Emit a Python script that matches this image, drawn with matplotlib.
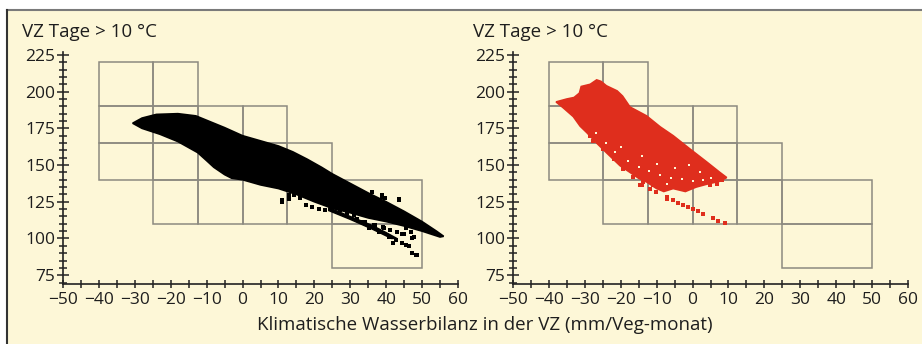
import matplotlib
matplotlib.use("Agg")
import matplotlib.pyplot as plt
from matplotlib.patches import Rectangle, Polygon
from matplotlib.lines import Line2D
from matplotlib.ticker import MultipleLocator

plt.rcParams['font.family'] = ['Open Sans', 'DejaVu Sans']

# ---------------- data ----------------
y_title = "VZ Tage > 10 °C"
x_title = "Klimatische Wasserbilanz in der VZ (mm/Veg-monat)"
x_ticks = [-50, -40, -30, -20, -10, 0, 10, 20, 30, 40, 50, 60]
y_ticks = [75, 100, 125, 150, 175, 200, 225]

# climate-space boxes (x0, x1, y0, y1)
box_x0 = [-40, -25, -40, -25, -12.5, 0, -40, -25, -12.5, 0, 12.5, -25, -12.5, 0, 12.5, 25, 25]
box_x1 = [-25, -12.5, -25, -12.5, 0, 12.5, -25, -12.5, 0, 12.5, 25, -12.5, 0, 12.5, 25, 50, 50]
box_y0 = [190, 190, 165, 165, 165, 165, 140, 140, 140, 140, 140, 110, 110, 110, 110, 110, 80]
box_y1 = [220, 220, 190, 190, 190, 190, 165, 165, 165, 165, 165, 140, 140, 140, 140, 140, 110]

# left panel: outline of the dense black point cloud
black_cloud_x = [-30.6, -28, -24, -18, -13, -10, -5, 0, 5, 10, 14, 18, 22, 25, 30, 35, 40, 45, 50, 54, 56,
                 55, 50, 45, 40, 35, 30, 25, 20, 15, 10, 5, 0, -3, -5, -8, -10, -12.5, -18, -23, -28]
black_cloud_y = [178.5, 182, 184.5, 185, 183.5, 180.5, 175.5, 170, 166.5, 163, 159, 154, 148.5, 144, 137.5, 131, 125, 118.5, 111.5, 105, 101.5,
                 101, 105, 108.5, 111.5, 114, 117.5, 120.5, 125, 130, 134, 136.5, 140, 141, 143.5, 148.5, 153, 158.5, 166, 171, 175]
black_branch_x = [24, 30, 36, 40, 43, 41.5, 36, 30, 24]
black_branch_y = [121, 115, 109, 104, 100, 100, 106.5, 113, 119]
black_pts_x = [11.1, 13, 14.4, 17.6, 19.4, 21.3, 23.1, 25.9, 36.1, 38.9, 39.8, 43.5, 35.2, 38, 40.7, 42.6, 44.4,
               45.4, 46.8, 47.7, 46.3, 47.2, 48.6, 45, 36.6, 33.3, 39.4, 11.1, 13, 43.5, 38.9, 48.2, 41.8, 45.4, 47.2,
               32, 34, 37, 39, 41, 43, 44.5, 31, 29, 27, 16]
black_pts_y = [124.9, 127.2, 129.4, 122.6, 121.6, 120.4, 119.3, 121.6, 131.7, 128.4, 127.6, 126, 106.9, 104.7, 101.3, 99, 96.8,
               106.9, 104.7, 101.3, 94.6, 90.1, 88.5, 102.8, 109.2, 111.4, 106.9, 126, 129.4, 127.2, 129.4, 89, 96.9, 95.8, 100.2,
               113, 111, 109.5, 108, 106, 104.5, 103, 116, 117.5, 119.5, 127.5]

# right panel: outline of the dense red point cloud
red_cloud_x = [-38, -35, -33, -31.5, -31, -28.5, -26.7, -25.5, -24, -21, -19.5, -17.4, -12.8, -9, -5.4, -0.75, 4, 7.6, 9.5,
               7.6, 4, 1, -2, -5.4, -8, -10, -12.8, -15, -17.4, -20.2, -24, -26.7, -29.4, -31.3, -33.2, -36]
red_cloud_y = [193, 195, 196, 199, 203.5, 205, 208, 207, 204, 200.5, 197, 189.5, 183.5, 176, 170, 161, 152, 145, 141.5,
               139, 137, 135, 132, 134, 132, 134, 138.5, 141, 145, 149.6, 158.5, 165, 172, 176.5, 183, 189]
red_pts_x = [-5.4, -2.6, 0.2, 2.9, 5.7, 9, -11.9, -10.1, -7.2, -14.6, -28.5, -27.6, -24.8, -22, -19.3, -16.5, -13.7,
             -10.9, -0.75, 2, 4.8, 6.7, 8.1, -7.2, -14.2, -4, -1.2, 1.5, 7.2]
red_pts_y = [126, 122.6, 120.4, 117, 113.7, 110.3, 133.9, 131.7, 128.3, 136.1, 169.9, 166.5, 160.9, 154.1, 147.4, 141.8, 138.4,
             136.1, 135, 137.3, 136.1, 137.3, 139.5, 127.2, 136.1, 124.5, 121.5, 119, 112]
# small light gaps visible inside the lower part of the red cloud
red_gap_x = [-27, -24, -21.5, -18, -15, -12, -9, -6, -3, 0, 3, -10, -5, -20, 2, -1, -14, -7, 5]
red_gap_y = [172, 165, 159, 153, 149, 146, 143, 141, 140.5, 139, 140, 151, 148, 162, 145, 150, 156, 137, 141]

# ---------------- styling ----------------
cream = '#fdf7d7'
grid_col = '#8c8a80'
txt_col = '#1e1e1e'

fig = plt.figure(figsize=(9.22, 3.44), dpi=100)
fig.patch.set_facecolor('white')
W, H = 922, 344
fig.patches.append(Rectangle((7 / W, 0), 1 - 7 / W, 1 - 10 / H, transform=fig.transFigure,
                             facecolor=cream, edgecolor='none', zorder=-10))
fig.lines.append(Line2D([7 / W, 1], [1 - 10 / H, 1 - 10 / H], transform=fig.transFigure,
                        color='#7a7a7a', lw=1.5))
fig.lines.append(Line2D([7 / W, 7 / W], [0, 1 - 10 / H], transform=fig.transFigure,
                        color='#333333', lw=1.5))

ax_bottom = 1 - 284 / H
ax_top = 1 - 52 / H
axL = fig.add_axes([63 / W, ax_bottom, (458 - 63) / W, ax_top - ax_bottom])
axR = fig.add_axes([513 / W, ax_bottom, (908 - 513) / W, ax_top - ax_bottom])


def style(ax):
    ax.set_facecolor('none')
    ax.set_xlim(-50, 60)
    ax.set_ylim(69, 227)
    for s in ['top', 'right']:
        ax.spines[s].set_visible(False)
    for s in ['left', 'bottom']:
        ax.spines[s].set_color('#222222')
        ax.spines[s].set_linewidth(1.2)
    ax.set_xticks(x_ticks)
    ax.set_xticklabels([str(v).replace('-', '\u2212') for v in x_ticks])
    ax.set_yticks(y_ticks)
    ax.set_yticklabels([str(v) for v in y_ticks])
    ax.xaxis.set_minor_locator(MultipleLocator(5))
    ax.yaxis.set_minor_locator(MultipleLocator(5))
    ax.tick_params(axis='y', which='major', direction='inout', length=9, width=1.1, pad=1,
                   labelsize=12.5, colors='#222222', labelcolor=txt_col)
    ax.tick_params(axis='y', which='minor', direction='inout', length=6, width=1.1, colors='#222222')
    ax.tick_params(axis='x', which='major', direction='inout', length=6, width=1.1, pad=2.5,
                   labelsize=12.5, colors='#222222', labelcolor=txt_col)
    ax.tick_params(axis='x', which='minor', direction='inout', length=6, width=1.1, colors='#222222')
    for x0, x1, y0, y1 in zip(box_x0, box_x1, box_y0, box_y1):
        ax.add_patch(Rectangle((x0, y0), x1 - x0, y1 - y0, fill=False, edgecolor=grid_col,
                               lw=1.1, zorder=1))


style(axL)
style(axR)

# left black cloud
axL.add_patch(Polygon(list(zip(black_cloud_x, black_cloud_y)), closed=True, facecolor='black',
                      edgecolor='black', lw=1.2, zorder=3))
axL.add_patch(Polygon(list(zip(black_branch_x, black_branch_y)), closed=True, facecolor='black',
                      edgecolor='black', lw=1.0, zorder=3))
axL.scatter(black_pts_x, black_pts_y, s=5, marker='s', color='black', linewidths=0, zorder=3)

# right red cloud
red = '#df2e1d'
axR.add_patch(Polygon(list(zip(red_cloud_x, red_cloud_y)), closed=True, facecolor=red,
                      edgecolor=red, lw=1.2, zorder=3))
axR.scatter(red_pts_x, red_pts_y, s=5, marker='s', color=red, linewidths=0, zorder=3)
axR.scatter(red_gap_x, red_gap_y, s=2.5, marker='s', color=cream, linewidths=0, zorder=4)

# titles
fig.text(22 / W, 1 - 32 / H, y_title, fontsize=13.5, color=txt_col, ha='left', va='center')
fig.text(473 / W, 1 - 32 / H, y_title, fontsize=13.5, color=txt_col, ha='left', va='center')
fig.text(485 / W, 1 - 325 / H, x_title, fontsize=13.5, color=txt_col, ha='center', va='center')

fig.savefig('out.png', dpi=100, facecolor=fig.get_facecolor())
